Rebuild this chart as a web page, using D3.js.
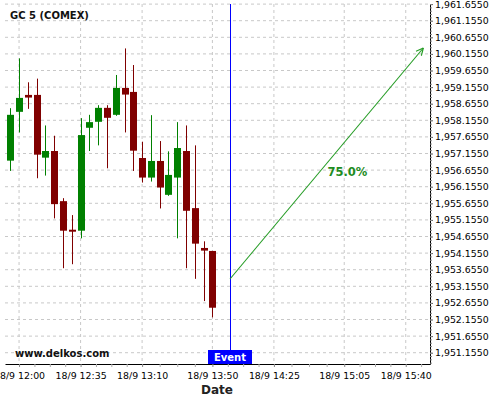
<!DOCTYPE html>
<html>
<head>
<meta charset="utf-8">
<script src="https://cdn.jsdelivr.net/npm/d3@7"></script>
<style>
  body { margin: 0; background: #fff; }
  svg { display: block; font-family: "DejaVu Sans", sans-serif; }
  .grid line { stroke: #c8c8c8; stroke-dasharray: 3,3; }
  .axis .domain { stroke: #000; }
</style>
</head>
<body>
<svg id="chart" width="500" height="400"></svg>
<script>
const times = ["11:55","12:00","12:05","12:10","12:15","12:20","12:25","12:30","12:35","12:40","12:45","12:50",
  "12:55","13:00","13:05","13:10","13:15","13:20","13:25","13:30","13:35","13:40","13:45","13:50"];
const open  = [1956.94,1958.41,1958.92,1958.92,1957.03,1957.23,1955.72,1954.86,1954.83,1957.93,1958.11,1958.53,
  1958.32,1959.13,1959.01,1957.02,1956.43,1956.93,1955.91,1956.43,1957.23,1955.51,1954.31,1954.22];
const high  = [1958.52,1960.02,1959.30,1959.41,1958.00,1957.69,1955.81,1955.30,1958.22,1958.32,1958.61,1958.61,
  1959.52,1960.32,1959.82,1957.51,1958.31,1957.53,1957.22,1958.10,1958.00,1957.40,1954.51,1954.22];
const low   = [1956.63,1957.79,1958.50,1956.41,1956.49,1955.20,1953.70,1953.82,1954.60,1957.23,1957.40,1956.71,
  1958.29,1957.79,1956.63,1956.28,1956.31,1955.50,1955.88,1954.60,1953.70,1953.38,1952.71,1952.22];
const close = [1958.32,1958.83,1958.84,1957.12,1957.23,1955.63,1954.83,1954.82,1957.71,1958.10,1958.53,1958.23,
  1959.13,1958.93,1957.24,1956.43,1956.93,1956.13,1956.51,1957.32,1955.43,1954.44,1954.23,1952.51];

const xTickTimes = ["12:00","12:35","13:10","13:50","14:25","15:05","15:40"];
const yTickValues = [1951.155,1951.655,1952.155,1952.655,1953.155,1953.655,1954.155,1954.655,1955.155,1955.655,
  1956.155,1956.655,1957.155,1957.655,1958.155,1958.655,1959.155,1959.655,1960.155,1960.655,1961.155,1961.655];

const eventTime = "14:00";
const forecastFrom = { time: "14:00", price: 1953.375 };
const forecastTo = { time: "15:50", price: 1960.333 };
const forecastLabel = "75.0%";

const toDate = (s) => {
  const [h, m] = s.split(":").map(Number);
  return new Date(2014, 8, 18, h, m);
};

const svg = d3.select("#chart");
const plotLeft = 5, plotRight = 430, plotTop = 4, plotBottom = 364;

const x = d3.scaleTime()
  .domain([new Date(2014, 8, 18, 11, 52), new Date(2014, 8, 18, 15, 53, 48)])
  .range([plotLeft, plotRight]);
const y = d3.scaleLinear()
  .domain([1950.815, 1961.658])
  .range([plotBottom, plotTop]);

const candles = times.map((t, i) => ({
  t: toDate(t), o: open[i], h: high[i], l: low[i], c: close[i]
}));
const xMajor = xTickTimes.map(toDate);

// minor ticks: 3 between every pair of labelled ticks
let xMinor = [];
for (let i = 0; i < xMajor.length - 1; i++) {
  const a = +xMajor[i], b = +xMajor[i + 1];
  for (let k = 1; k < 4; k++) xMinor.push(new Date(a + (b - a) * k / 4));
}
xMinor.push(new Date(+xMajor[6] + (+xMajor[6] - +xMajor[5]) / 4));
let yMinor = [];
for (let v = 1950.855; v < 1961.66; v += 0.1) yMinor.push(v);

// grid
const grid = svg.append("g").attr("class", "grid");
grid.selectAll(".gx").data(xMajor).enter().append("line")
  .attr("x1", (d) => x(d)).attr("x2", (d) => x(d))
  .attr("y1", plotTop).attr("y2", plotBottom);
grid.selectAll(".gy").data(yTickValues).enter().append("line")
  .attr("x1", plotLeft).attr("x2", plotRight)
  .attr("y1", (d) => y(d)).attr("y2", (d) => y(d));

// candles
const cg = svg.append("g");
cg.selectAll("line.wick").data(candles).enter().append("line")
  .attr("class", "wick")
  .attr("x1", (d) => Math.round(x(d.t)) + 0.5).attr("x2", (d) => Math.round(x(d.t)) + 0.5)
  .attr("y1", (d) => y(d.h)).attr("y2", (d) => y(d.l))
  .attr("stroke", (d) => (d.c >= d.o ? "#008000" : "#800000"));
cg.selectAll("rect").data(candles).enter().append("rect")
  .attr("x", (d) => Math.round(x(d.t)) - 3)
  .attr("width", 7)
  .attr("y", (d) => y(Math.max(d.o, d.c)))
  .attr("height", (d) => Math.max(2, Math.abs(y(d.o) - y(d.c))))
  .attr("fill", (d) => (d.c >= d.o ? "#008000" : "#800000"));

// event line
const ex = Math.round(x(toDate(eventTime))) + 0.5;
svg.append("line")
  .attr("x1", ex).attr("x2", ex).attr("y1", plotTop).attr("y2", plotBottom)
  .attr("stroke", "#0000ff").attr("stroke-width", 1);

// forecast arrow
const ax1 = x(toDate(forecastFrom.time)), ay1 = y(forecastFrom.price);
const ax2 = x(toDate(forecastTo.time)), ay2 = y(forecastTo.price);
const ang = Math.atan2(ay2 - ay1, ax2 - ax1);
const ag = svg.append("g").attr("stroke", "#239b23").attr("stroke-width", 1.1).attr("fill", "none");
ag.append("line").attr("x1", ax1).attr("y1", ay1).attr("x2", ax2).attr("y2", ay2);
[0.45, -0.45].forEach((da) => {
  ag.append("line")
    .attr("x1", ax2).attr("y1", ay2)
    .attr("x2", ax2 - 8 * Math.cos(ang + da))
    .attr("y2", ay2 - 8 * Math.sin(ang + da));
});
svg.append("text")
  .attr("x", 327.5).attr("y", 175.7)
  .attr("font-size", "11.5px").attr("font-weight", "bold")
  .attr("fill", "#1e8c1e")
  .text(forecastLabel);

// axes
const yAxis = svg.append("g").attr("class", "axis")
  .attr("transform", `translate(${plotRight},0)`)
  .call(d3.axisRight(y).tickValues(yTickValues).tickFormat(d3.format(",.4f"))
    .tickSize(3).tickPadding(2).tickSizeOuter(0))
  .attr("font-family", "DejaVu Sans").attr("font-size", 9.4);
yAxis.selectAll(".tick line").attr("stroke", "#666");
yAxis.selectAll(".tick text").attr("fill", "#000");
svg.append("g").attr("transform", `translate(${plotRight},0)`)
  .call(d3.axisRight(y).tickValues(yMinor).tickFormat("").tickSize(2).tickSizeOuter(0))
  .call((g) => g.select(".domain").remove())
  .selectAll(".tick line").attr("stroke", "#888");

const xAxis = svg.append("g").attr("class", "axis")
  .attr("transform", `translate(0,${plotBottom})`)
  .call(d3.axisBottom(x).tickValues(xMajor).tickFormat(d3.timeFormat("%-d/%-m %H:%M"))
    .tickSize(3).tickPadding(5).tickSizeOuter(0))
  .attr("font-family", "DejaVu Sans").attr("font-size", 9.4);
xAxis.selectAll(".tick line").attr("stroke", "#888");
xAxis.selectAll(".tick text").attr("fill", "#000");
svg.append("g").attr("transform", `translate(0,${plotBottom})`)
  .call(d3.axisBottom(x).tickValues(xMinor).tickFormat("").tickSize(3).tickSizeOuter(0))
  .call((g) => g.select(".domain").remove())
  .selectAll(".tick line").attr("stroke", "#aaa");

// titles and labels
svg.append("text").attr("x", 10).attr("y", 19.3)
  .attr("font-size", "10px").attr("font-weight", "bold").attr("fill", "#111")
  .text("GC 5 (COMEX)");
svg.append("text").attr("x", 15).attr("y", 357)
  .attr("font-size", "10px").attr("font-weight", "bold").attr("fill", "#111")
  .text("www.delkos.com");
svg.append("text").attr("x", 217).attr("y", 393.5)
  .attr("text-anchor", "middle")
  .attr("font-size", "12px").attr("font-weight", "bold").attr("fill", "#222")
  .text("Date");

svg.append("rect").attr("x", ex - 22.5).attr("y", 350).attr("width", 44).attr("height", 14)
  .attr("fill", "#0000ff");
svg.append("text").attr("x", ex - 0.5).attr("y", 360.8)
  .attr("text-anchor", "middle")
  .attr("font-size", "10px").attr("font-weight", "bold").attr("fill", "#fff")
  .text("Event");
</script>
</body>
</html>
